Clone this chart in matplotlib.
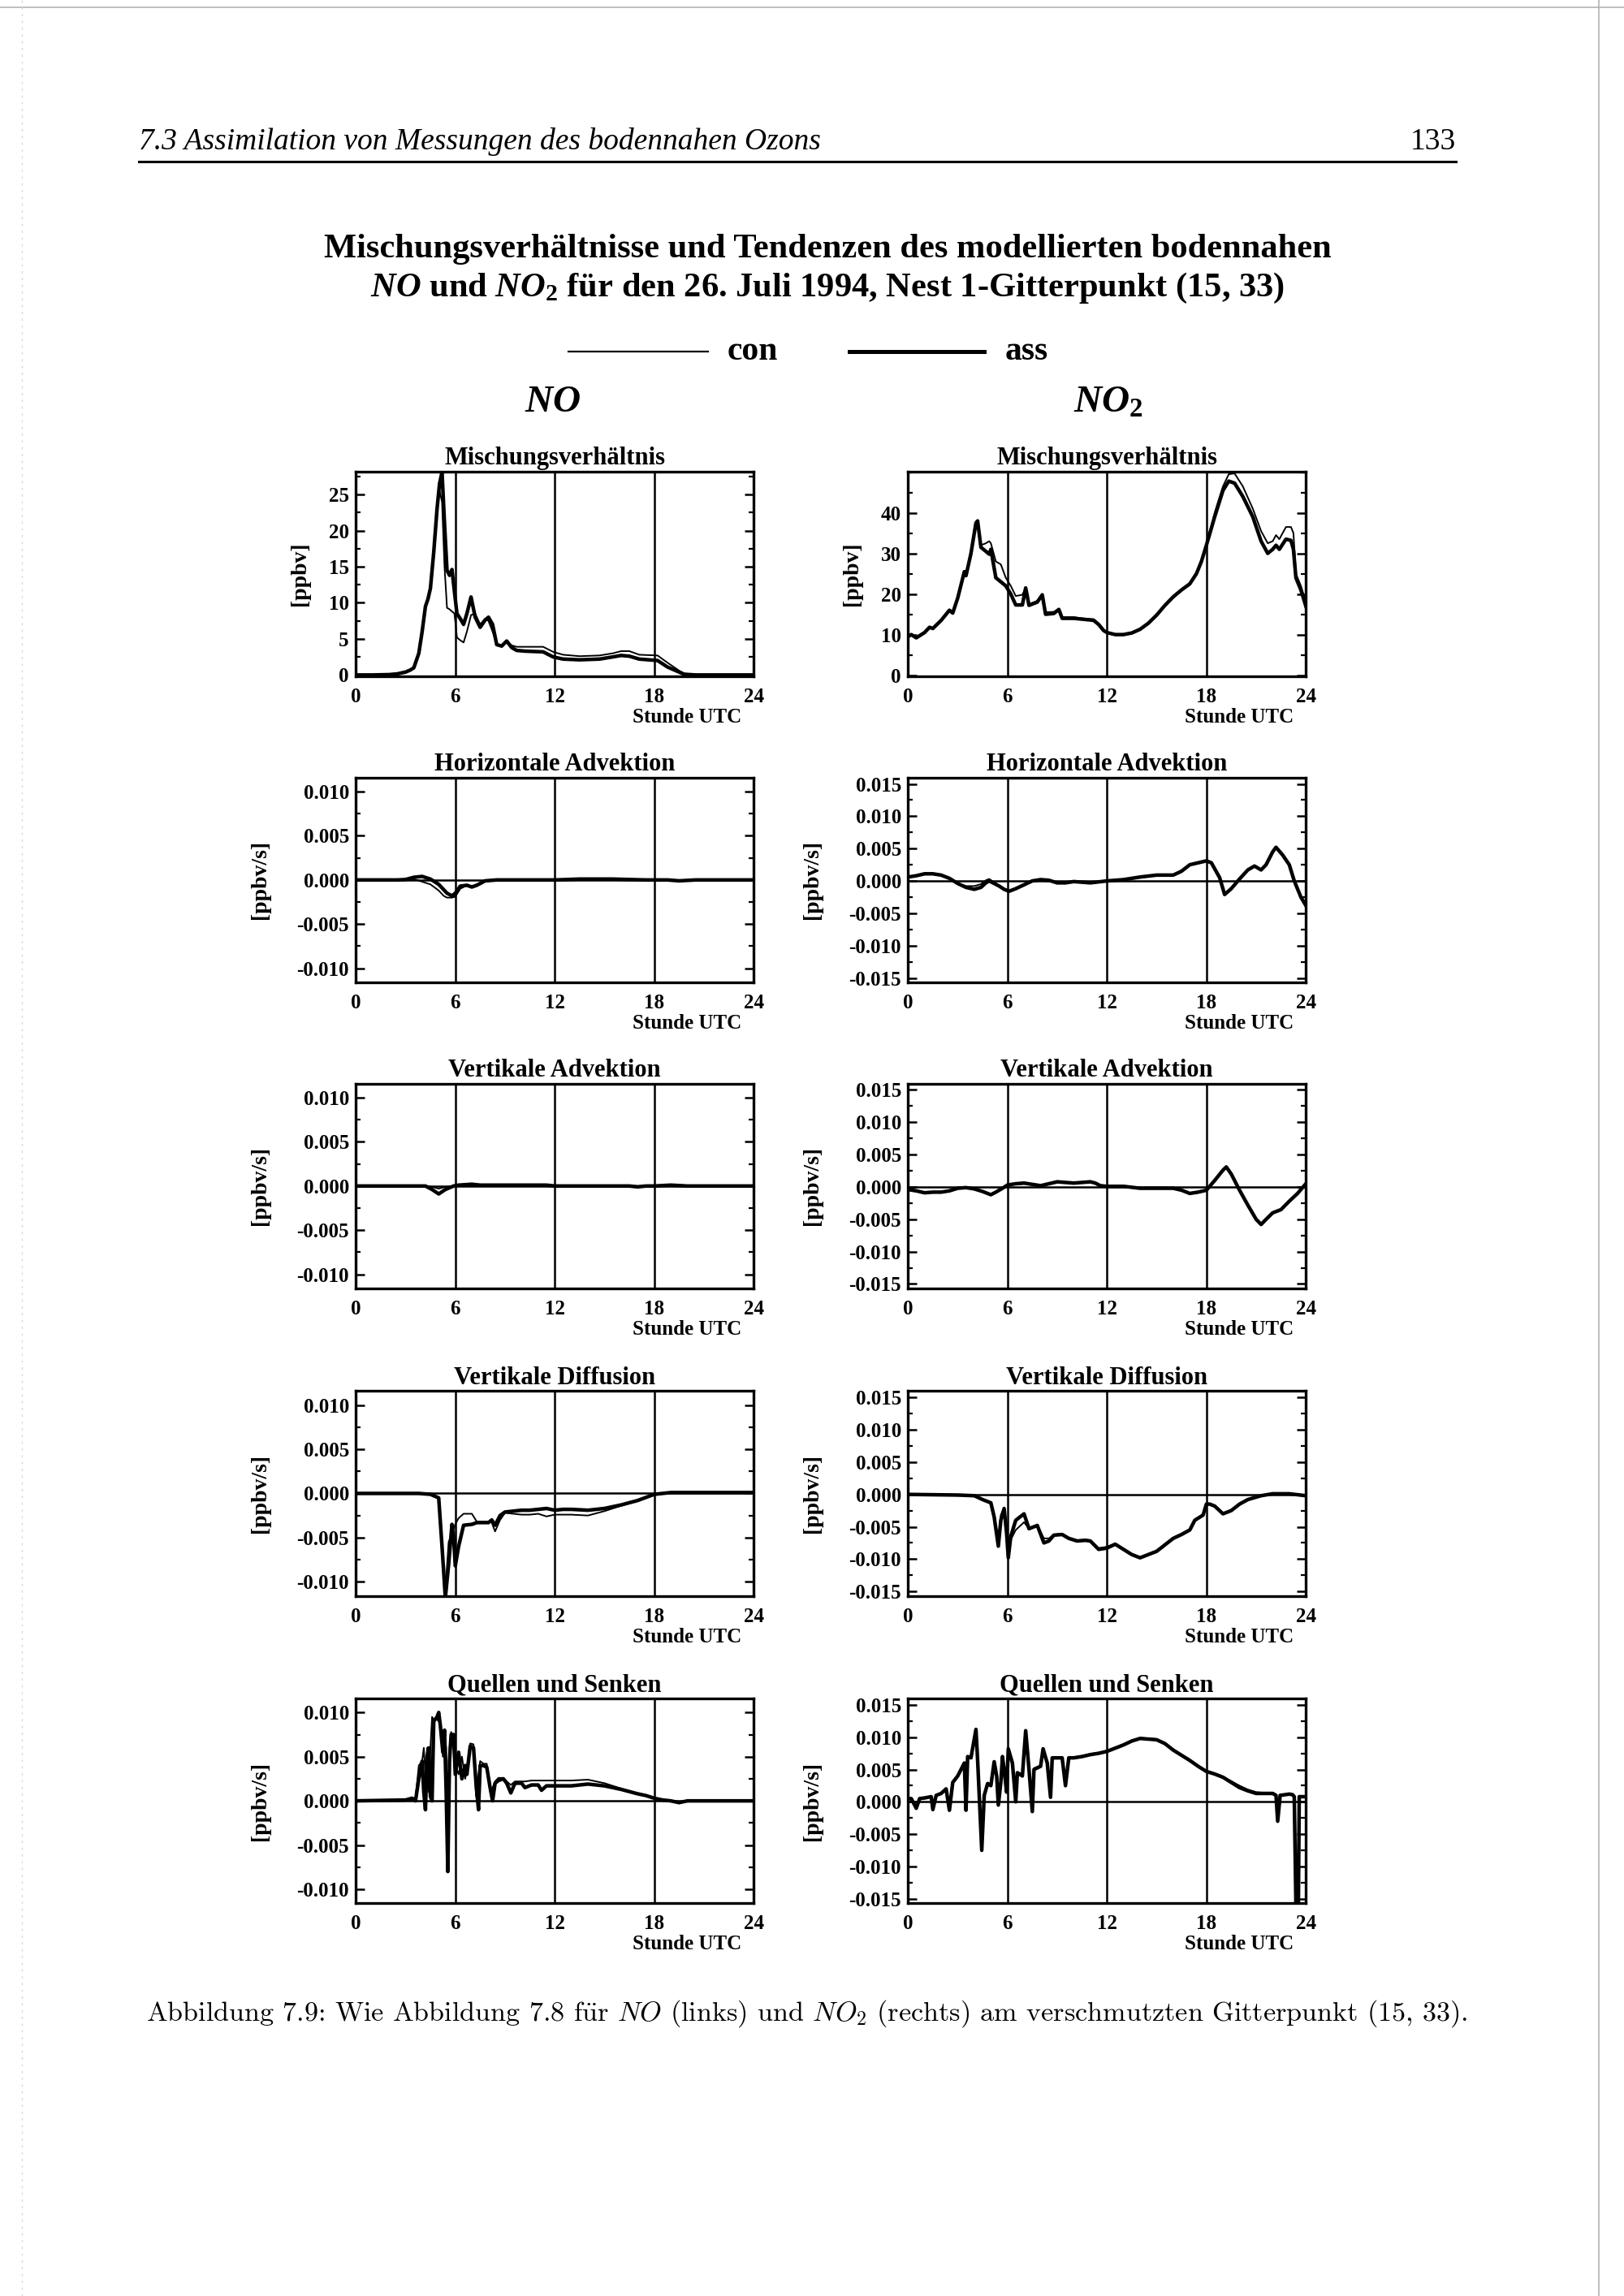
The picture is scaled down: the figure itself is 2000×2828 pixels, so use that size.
import numpy as np
import matplotlib
matplotlib.use("Agg")
import matplotlib.pyplot as plt
from matplotlib.ticker import MultipleLocator, FormatStrFormatter
from matplotlib.lines import Line2D

plt.rcParams['font.family'] = ['Liberation Serif', 'DejaVu Serif']
plt.rcParams['font.weight'] = 'bold'
plt.rcParams['mathtext.fontset'] = 'custom'
plt.rcParams['mathtext.it'] = 'Liberation Serif:italic:bold'
plt.rcParams['mathtext.rm'] = 'Liberation Serif:bold'
plt.rcParams['mathtext.bf'] = 'Liberation Serif:bold'

# ---- data: hours UTC, con (thin) and ass (thick) ----
# NO Mischungsverhaeltnis [ppbv]
no_mix_h = [0, 1, 2, 2.5, 3, 3.3, 3.5, 3.8, 4.0, 4.2, 4.35, 4.5, 4.7, 4.9, 5.05, 5.2, 5.35, 5.5,
            5.65, 5.8, 5.95, 6.1, 6.3, 6.5, 6.7, 6.95, 7.2, 7.5, 7.8, 8.0, 8.25, 8.5, 8.8, 9.1,
            9.4, 9.7, 10.2, 11.3, 11.9, 12.5, 13.5, 14.7, 15.5, 16.0, 16.5, 17.1, 18.2, 18.8,
            19.5, 19.8, 20.5, 21.5, 24]
no_mix_con = [0, 0, 0.05, 0.15, 0.4, 0.7, 1.0, 3.0, 6.0, 9.5, 10.5, 12.5, 17.5, 23.5, 25.5, 24.0,
              15.0, 9.3, 9.1, 8.8, 8.5, 5.2, 4.8, 4.5, 6.0, 8.3, 8.5, 7.0, 7.8, 7.5, 6.0, 4.3, 4.0,
              4.7, 4.1, 3.9, 3.9, 3.9, 3.2, 2.8, 2.6, 2.7, 3.0, 3.3, 3.3, 2.8, 2.7, 1.7, 0.6, 0.2,
              0.0, 0, 0]
no_mix_ass = [0, 0, 0.05, 0.15, 0.4, 0.7, 1.0, 3.0, 6.0, 9.5, 10.5, 12.0, 17.0, 23.0, 26.5, 28.1,
              21.0, 14.5, 13.8, 14.6, 11.5, 8.5, 7.8, 7.0, 8.5, 10.8, 8.0, 6.6, 7.6, 8.0, 7.0, 4.2,
              4.0, 4.7, 3.8, 3.4, 3.3, 3.2, 2.5, 2.2, 2.1, 2.2, 2.5, 2.7, 2.6, 2.2, 2.0, 1.1, 0.4,
              0.1, 0.0, 0, 0]

# NO2 Mischungsverhaeltnis [ppbv]
no2_mix_h = [0, 0.2, 0.5, 1.0, 1.3, 1.5, 2.0, 2.5, 2.7, 3.0, 3.4, 3.5, 3.8, 4.1, 4.2, 4.4, 4.7,
             4.9, 5.0, 5.3, 5.6, 5.9, 6.2, 6.5, 6.9, 7.1, 7.3, 7.8, 8.1, 8.3, 8.8, 9.1, 9.3, 10.0,
             10.5, 11.0, 11.2, 11.5, 11.8, 12.0, 12.5, 13.0, 13.5, 14.0, 14.5, 15.0, 15.5, 16.0,
             16.5, 17.0, 17.4, 17.7, 18.0, 18.5, 19.0, 19.35, 19.7, 20.2, 20.8, 21.3, 21.7, 22.0,
             22.2, 22.4, 22.8, 23.1, 23.25, 23.4, 23.7, 24.0]
no2_mix_con = [9.5, 10, 9.2, 10.5, 11.8, 11.5, 13.5, 16, 15.3, 19, 25.5, 24.5, 30, 37, 37.5, 32,
               32.5, 33, 32.5, 28, 27.3, 24, 22, 19.5, 19.8, 21.5, 17.5, 18.3, 19.8, 15.5, 15.6,
               16.3, 14.3, 14.3, 14, 13.8, 13.8, 12.7, 11.2, 10.6, 10, 10, 10.4, 11.3, 12.8, 14.8,
               17.2, 19.3, 21, 22.5, 25, 28, 32, 40, 46.5, 49.5, 49.7, 46.5, 41, 35.5, 32.5, 33,
               34.5, 33.5, 36.5, 36.5, 35, 25, 22, 18]
no2_mix_ass = [9.5, 10, 9.2, 10.5, 11.8, 11.5, 13.5, 16, 15.3, 19, 25.5, 24.5, 30, 37.5, 38, 31.5,
               30.5, 29.8, 31, 24, 23, 22, 20, 17.3, 17.3, 21.5, 17.2, 18, 19.8, 15, 15.2, 16.2,
               14, 14, 13.8, 13.6, 13.5, 12.5, 11, 10.5, 10, 10, 10.4, 11.3, 12.8, 14.8, 17.2,
               19.3, 21, 22.5, 25, 28, 32, 39, 45.5, 47.8, 47.3, 44, 39, 33, 30, 31, 32, 31, 33.5,
               33.2, 31, 24, 21, 17]

# NO horizontale Advektion [ppbv/s]
no_hadv_h = [0, 2.5, 3.0, 3.5, 4.0, 4.5, 5.0, 5.3, 5.5, 5.8, 6.0, 6.3, 6.7, 7.0, 7.3, 7.8, 8.5,
             12, 13.5, 15.5, 17.5, 18.8, 19.5, 20.5, 24]
no_hadv_con = [0, 0, 0.0001, 0.0001, -0.0002, -0.0005, -0.0012, -0.0018, -0.0020, -0.0020,
               -0.0019, -0.0010, -0.0006, -0.0007, -0.0005, -0.0002, 0, 0, 0.0001, 0.0001, 0, 0,
               -0.0001, 0, 0]
no_hadv_ass = [0, 0, 0.00005, 0.0003, 0.0004, 0.0001, -0.0005, -0.0011, -0.0015, -0.0018,
               -0.0015, -0.0007, -0.0006, -0.0008, -0.0006, -0.0001, 0, 0, 0.0001, 0.0001, 0, 0,
               -0.0001, 0, 0]

# NO2 horizontale Advektion [ppbv/s]
no2_hadv_h = [0, 0.5, 1.0, 1.5, 2.0, 2.5, 3.0, 3.5, 4.0, 4.4, 4.7, 4.9, 5.2, 5.5, 5.8, 6.1, 6.5,
              7.0, 7.5, 8.0, 8.5, 9.0, 9.5, 10.0, 11.0, 12.0, 13.0, 14.0, 15.0, 16.0, 16.5, 17.0,
              17.5, 18.0, 18.3, 18.8, 19.1, 19.5, 20.0, 20.5, 20.9, 21.3, 21.6, 22.0, 22.2, 22.6,
              23.0, 23.3, 23.7, 24.0]
no2_hadv_con = [0.0006, 0.0008, 0.0011, 0.0011, 0.0009, 0.0004, -0.0004, -0.0008, -0.0008,
                -0.0005, 0.0001, 0.0003, -0.0002, -0.0007, -0.0012, -0.0015, -0.0012, -0.0006,
                0.0000, 0.0002, 0.0001, -0.0003, -0.0003, -0.0001, -0.0003, 0.0000, 0.0002,
                0.0006, 0.0009, 0.0009, 0.0015, 0.0025, 0.0028, 0.0031, 0.0028, 0.0005, -0.0021,
                -0.0012, 0.0003, 0.0017, 0.0023, 0.0017, 0.0025, 0.0045, 0.0052, 0.0040, 0.0025,
                0.0000, -0.0025, -0.0038]
no2_hadv_ass = [0.0006, 0.0008, 0.0011, 0.0011, 0.0009, 0.0004, -0.0004, -0.0010, -0.0013,
                -0.0010, -0.0003, 0.0000, -0.0004, -0.0008, -0.0013, -0.0016, -0.0012, -0.0006,
                0.0000, 0.0002, 0.0001, -0.0003, -0.0003, -0.0001, -0.0003, 0.0000, 0.0002,
                0.0006, 0.0009, 0.0009, 0.0015, 0.0025, 0.0028, 0.0031, 0.0028, 0.0005, -0.0021,
                -0.0012, 0.0003, 0.0017, 0.0023, 0.0017, 0.0025, 0.0045, 0.0052, 0.0040, 0.0025,
                0.0000, -0.0025, -0.0038]

# NO vertikale Advektion [ppbv/s]
no_vadv_h = [0, 4.2, 4.6, 5.0, 5.4, 5.9, 6.2, 7.0, 7.5, 8.0, 11.5, 12.0, 16.5, 17.0, 17.5, 18.0,
             19.0, 20.0, 24]
no_vadv_con = [0, 0, -0.0001, -0.0003, -0.0001, 0, 0.0001, 0.0001, 0.0001, 0.00005, 0.00005, 0,
               0, 0, 0, 0, 0.00005, 0, 0]
no_vadv_ass = [0, 0, -0.0004, -0.0009, -0.0004, 0, 0.0001, 0.0002, 0.0001, 0.0001, 0.0001, 0,
               0, -0.0001, 0, 0, 0.0001, 0, 0]

# NO2 vertikale Advektion [ppbv/s]
no2_vadv_h = [0, 0.5, 1.0, 1.5, 2.0, 2.5, 3.0, 3.5, 4.0, 4.5, 5.0, 5.3, 5.7, 6.0, 6.5, 7.0, 7.5,
              8.0, 8.5, 9.0, 9.5, 10.0, 10.5, 11.0, 11.3, 11.6, 12.0, 13.0, 14.0, 15.0, 16.0,
              16.5, 17.0, 17.5, 18.0, 18.5, 19.0, 19.2, 19.5, 20.0, 20.5, 21.0, 21.3, 21.6, 22.0,
              22.5, 23.0, 23.5, 24.0]
no2_vadv_con = [-0.0004, -0.0006, -0.0008, -0.0008, -0.0008, -0.0006, -0.0002, -0.0001, -0.0003,
                -0.0006, -0.0011, -0.0008, -0.0002, 0.0003, 0.0004, 0.0005, 0.0004, 0.0002,
                0.0004, 0.0007, 0.0007, 0.0006, 0.0007, 0.0007, 0.0006, 0.0002, 0.0001, 0.0001,
                -0.0002, -0.0002, -0.0002, -0.0005, -0.0010, -0.0008, -0.0005, 0.0010, 0.0026,
                0.0030, 0.0020, -0.0005, -0.0027, -0.0049, -0.0056, -0.0050, -0.0040, -0.0034,
                -0.0022, -0.0010, 0.0005]
no2_vadv_ass = [-0.0004, -0.0006, -0.0009, -0.0008, -0.0008, -0.0006, -0.0002, -0.0001, -0.0003,
                -0.0007, -0.0012, -0.0008, -0.0002, 0.0003, 0.0005, 0.0006, 0.0004, 0.0002,
                0.0005, 0.0008, 0.0007, 0.0006, 0.0007, 0.0008, 0.0006, 0.0002, 0.0001, 0.0001,
                -0.0002, -0.0002, -0.0002, -0.0005, -0.0010, -0.0008, -0.0005, 0.0010, 0.0026,
                0.0031, 0.0020, -0.0005, -0.0028, -0.0050, -0.0058, -0.0050, -0.0040, -0.0035,
                -0.0022, -0.0010, 0.0005]

# NO vertikale Diffusion [ppbv/s]
no_vdif_h = [0, 3.8, 4.5, 5.0, 5.2, 5.4, 5.6, 5.8, 5.9, 6.0, 6.2, 6.5, 7.0, 7.3, 8.0, 8.2, 8.4,
             8.7, 9.0, 9.5, 10.0, 10.5, 11.0, 11.5, 12.0, 12.5, 13.0, 14.0, 15.0, 16.0, 17.0,
             18.0, 19.0, 24.0]
no_vdif_con = [0, 0, -0.0001, -0.0005, -0.0060, -0.0110, -0.0055, -0.0045, -0.0040, -0.0035,
               -0.0028, -0.0023, -0.0023, -0.0032, -0.0032, -0.0033, -0.0043, -0.0030, -0.0022,
               -0.0023, -0.0024, -0.0024, -0.0023, -0.0026, -0.0024, -0.0024, -0.0024, -0.0025,
               -0.0020, -0.0014, -0.0008, -0.0002, 0.0001, 0.0001]
no_vdif_ass = [0, 0, -0.0001, -0.0005, -0.0060, -0.0118, -0.0080, -0.0035, -0.0050, -0.0082,
               -0.0060, -0.0036, -0.0035, -0.0033, -0.0033, -0.0030, -0.0036, -0.0025, -0.0021,
               -0.0020, -0.0019, -0.0019, -0.0018, -0.0017, -0.0019, -0.0018, -0.0018, -0.0019,
               -0.0017, -0.0013, -0.0008, -0.0001, 0.0001, 0.0001]

# NO2 vertikale Diffusion [ppbv/s]
no2_vdif_h = [0, 3.0, 4.0, 4.5, 5.0, 5.2, 5.45, 5.6, 5.8, 5.95, 6.05, 6.2, 6.5, 7.0, 7.3, 7.8,
              8.2, 8.5, 8.8, 9.3, 9.7, 10.2, 10.7, 11.0, 11.5, 12.0, 12.5, 13.0, 13.5, 14.0, 14.5,
              15.0, 15.5, 16.0, 16.5, 17.0, 17.3, 17.8, 18.0, 18.2, 18.5, 19.0, 19.5, 20.0, 20.5,
              21.3, 22.0, 23.0, 24.0]
no2_vdif_con = [0, -0.0001, -0.0002, -0.0008, -0.0013, -0.0032, -0.0070, -0.0032, -0.0020,
                -0.0055, -0.0095, -0.0070, -0.0055, -0.0043, -0.0053, -0.0048, -0.0068, -0.0068,
                -0.0062, -0.0061, -0.0067, -0.0071, -0.0070, -0.0071, -0.0083, -0.0081, -0.0076,
                -0.0084, -0.0092, -0.0097, -0.0092, -0.0087, -0.0077, -0.0067, -0.0061, -0.0054,
                -0.0040, -0.0031, -0.0015, -0.0015, -0.0018, -0.0030, -0.0025, -0.0015, -0.0008,
                -0.0002, 0.0001, 0.0001, -0.0002]
no2_vdif_ass = [0, -0.0001, -0.0002, -0.0008, -0.0013, -0.0035, -0.0080, -0.0040, -0.0022,
                -0.0060, -0.0098, -0.0065, -0.0040, -0.0030, -0.0053, -0.0048, -0.0075, -0.0072,
                -0.0063, -0.0062, -0.0068, -0.0072, -0.0071, -0.0072, -0.0085, -0.0083, -0.0077,
                -0.0085, -0.0093, -0.0098, -0.0093, -0.0088, -0.0078, -0.0068, -0.0062, -0.0055,
                -0.0040, -0.0032, -0.0015, -0.0015, -0.0018, -0.0030, -0.0025, -0.0015, -0.0008,
                -0.0002, 0.0001, 0.0001, -0.0002]

# NO Quellen und Senken [ppbv/s]
no_qs_h = [0, 3.0, 3.4, 3.6, 3.8, 4.0, 4.1, 4.2, 4.3, 4.4, 4.5, 4.6, 4.7, 4.9, 5.0, 5.1, 5.25,
           5.35, 5.45, 5.55, 5.65, 5.75, 5.9, 6.0, 6.2, 6.4, 6.6, 6.7, 6.9, 7.1, 7.25, 7.4, 7.5,
           7.7, 7.9, 8.1, 8.25, 8.4, 8.6, 8.9, 9.1, 9.35, 9.6, 10.0, 10.2, 10.6, 11.0, 11.2,
           11.5, 12.0, 13.0, 14.0, 15.0, 16.0, 17.0, 17.5, 18.0, 18.5, 19.0, 19.5, 20.0, 24.0]
no_qs_con = [0, 0.0001, 0.0001, 0.0003, 0.0040, 0.0045, 0.0060, 0.0030, 0.0060, 0.0010, 0.0060,
             0.0095, 0.0092, 0.0092, 0.0090, 0.0088, 0.0050, 0.0075, 0.0060, -0.0060, 0.0060,
             0.0078, 0.0060, 0.0040, 0.0030, 0.0050, 0.0025, 0.0035, 0.0065, 0.0064, 0.0005,
             0.0030, 0.0045, 0.0042, 0.0042, 0.0010, 0.0015, 0.0022, 0.0026, 0.0026, 0.0022,
             0.0018, 0.0022, 0.0022, 0.0022, 0.0023, 0.0023, 0.0023, 0.0023, 0.0023, 0.0023,
             0.0024, 0.0020, 0.0014, 0.0008, 0.0006, 0.0003, 0.0001, 0.0000, -0.0001, 0.0000, 0.0000]
no_qs_ass = [0, 0.0001, 0.0003, 0.0000, 0.0025, 0.0045, 0.0010, -0.0010, 0.0050, 0.0060, 0.0005,
             0.0000, 0.0090, 0.0095, 0.0100, 0.0085, 0.0055, 0.0080, 0.0010, -0.0080, 0.0045,
             0.0075, 0.0075, 0.0030, 0.0055, 0.0025, 0.0040, 0.0030, 0.0062, 0.0060, 0.0020,
             -0.0010, 0.0040, 0.0040, 0.0038, 0.0015, 0.0000, 0.0020, 0.0023, 0.0025, 0.0020,
             0.0009, 0.0020, 0.0020, 0.0015, 0.0018, 0.0018, 0.0012, 0.0017, 0.0017, 0.0017,
             0.0019, 0.0017, 0.0013, 0.0008, 0.0006, 0.0003, 0.0001, 0.0000, -0.0002, 0.0000, 0.0000]

# NO2 Quellen und Senken [ppbv/s]
no2_qs_h = [0, 0.2, 0.5, 0.7, 1.0, 1.4, 1.5, 1.7, 2.0, 2.3, 2.5, 2.7, 3.0, 3.3, 3.4, 3.5, 3.6,
            3.8, 4.1, 4.2, 4.45, 4.6, 4.8, 5.0, 5.2, 5.35, 5.45, 5.6, 5.7, 5.8, 5.95, 6.05, 6.3,
            6.5, 6.6, 6.9, 7.1, 7.3, 7.5, 7.6, 8.0, 8.15, 8.4, 8.6, 8.7, 9.0, 9.3, 9.5, 9.7,
            10.0, 10.5, 11.0, 11.5, 12.0, 12.5, 13.0, 13.5, 14.0, 14.5, 15.0, 15.5, 16.0, 16.5,
            17.0, 17.5, 18.0, 18.5, 19.0, 19.5, 20.0, 20.5, 21.0, 21.5, 22.0, 22.2, 22.3, 22.45,
            23.0, 23.2, 23.3, 23.4, 23.55, 23.6, 24.0]
no2_qs_con = [0.0005, 0.0005, -0.0009, 0.0005, 0.0006, 0.0008, -0.0011, 0.0010, 0.0013, 0.0020,
              -0.0012, 0.0030, 0.0040, 0.0055, 0.0060, -0.0012, 0.0070, 0.0068, 0.0108, 0.0065,
              -0.0070, 0.0012, 0.0030, 0.0027, 0.0060, 0.0040, 0.0000, 0.0032, 0.0068, 0.0050,
              0.0018, 0.0080, 0.0060, 0.0002, 0.0046, 0.0042, 0.0105, 0.0050, -0.0012, 0.0052,
              0.0056, 0.0080, 0.0060, 0.0009, 0.0069, 0.0069, 0.0069, 0.0028, 0.0069, 0.0069,
              0.0071, 0.0074, 0.0076, 0.0079, 0.0084, 0.0089, 0.0095, 0.0099, 0.0098, 0.0097,
              0.0091, 0.0081, 0.0073, 0.0065, 0.0056, 0.0048, 0.0044, 0.0039, 0.0032, 0.0025,
              0.0019, 0.0015, 0.0014, 0.0014, 0.0011, -0.0028, 0.0011, 0.0012, 0.0011, 0.0008,
              -0.0158, -0.0158, 0.0008, 0.0008]
no2_qs_ass = [0.0005, 0.0005, -0.0010, 0.0005, 0.0006, 0.0008, -0.0012, 0.0010, 0.0013, 0.0020,
              -0.0013, 0.0030, 0.0040, 0.0055, 0.0060, -0.0013, 0.0070, 0.0068, 0.0112, 0.0065,
              -0.0075, 0.0010, 0.0028, 0.0025, 0.0062, 0.0040, -0.0005, 0.0030, 0.0070, 0.0050,
              0.0015, 0.0082, 0.0060, 0.0000, 0.0045, 0.0040, 0.0110, 0.0050, -0.0015, 0.0050,
              0.0055, 0.0082, 0.0060, 0.0007, 0.0068, 0.0068, 0.0068, 0.0025, 0.0068, 0.0068,
              0.0070, 0.0073, 0.0075, 0.0078, 0.0083, 0.0088, 0.0094, 0.0098, 0.0097, 0.0096,
              0.0090, 0.0080, 0.0072, 0.0064, 0.0055, 0.0047, 0.0043, 0.0038, 0.0030, 0.0022,
              0.0017, 0.0013, 0.0013, 0.0013, 0.0010, -0.0030, 0.0010, 0.0012, 0.0011, 0.0008,
              -0.0158, -0.0158, 0.0008, 0.0008]

hour_ticks = [0, 6, 12, 18, 24]
panel_titles = ["Mischungsverhältnis", "Horizontale Advektion", "Vertikale Advektion",
                "Vertikale Diffusion", "Quellen und Senken"]

no_panels = [(no_mix_h, no_mix_con, no_mix_ass), (no_hadv_h, no_hadv_con, no_hadv_ass),
             (no_vadv_h, no_vadv_con, no_vadv_ass), (no_vdif_h, no_vdif_con, no_vdif_ass),
             (no_qs_h, no_qs_con, no_qs_ass)]
no2_panels = [(no2_mix_h, no2_mix_con, no2_mix_ass), (no2_hadv_h, no2_hadv_con, no2_hadv_ass),
              (no2_vadv_h, no2_vadv_con, no2_vadv_ass), (no2_vdif_h, no2_vdif_con, no2_vdif_ass),
              (no2_qs_h, no2_qs_con, no2_qs_ass)]

fig = plt.figure(figsize=(10, 14.14), dpi=200)

# page header
fig.text(0.0857, 0.935, "7.3 Assimilation von Messungen des bodennahen Ozons",
         fontstyle='italic', fontweight='normal', fontsize=13.5, ha='left', va='baseline')
fig.text(0.8965, 0.935, "133", fontweight='normal', fontsize=13.5, ha='right', va='baseline')
fig.add_artist(Line2D([0.0857, 0.8965], [0.9295, 0.9295], color='k', lw=1.1))

# faint scan edges
fig.add_artist(Line2D([0.0, 1.0], [0.9968, 0.9968], color='0.7', lw=0.6))
fig.add_artist(Line2D([0.9845, 0.9845], [0.0, 1.0], color='0.7', lw=0.6))
fig.add_artist(Line2D([0.0135, 0.0135], [0.0, 1.0], color='0.85', lw=0.5, ls=(0, (2, 4))))

# title
fig.text(0.5095, 0.8915, "Mischungsverhältnisse und Tendenzen des modellierten bodennahen",
         fontsize=15.3, ha='center', va='center')
fig.text(0.5095, 0.8745, r"$NO$ und $NO_2$ für den 26. Juli 1994, Nest 1-Gitterpunkt (15, 33)",
         fontsize=15.3, ha='center', va='center')

# legend
fig.add_artist(Line2D([0.350, 0.436], [0.8469, 0.8469], color='k', lw=0.8))
fig.text(0.448, 0.8469, "con", fontsize=15, ha='left', va='center')
fig.add_artist(Line2D([0.523, 0.606], [0.8469, 0.8469], color='k', lw=1.8))
fig.text(0.619, 0.8469, "ass", fontsize=15, ha='left', va='center')

# species headings
fig.text(0.3405, 0.8245, r"$NO$", fontsize=17, ha='center', va='center')
fig.text(0.6826, 0.8245, r"$NO_2$", fontsize=17, ha='center', va='center')

col_left = [0.2191, 0.5591]
ax_w = 0.2450
row_bottom = [0.7054, 0.5721, 0.4388, 0.3049, 0.1710]
ax_h = 0.0893

for col, panels in enumerate([no_panels, no2_panels]):
    for row, (h, con, ass) in enumerate(panels):
        ax = fig.add_axes([col_left[col], row_bottom[row], ax_w, ax_h])
        ax.plot(h, con, color='k', lw=0.7)
        ax.plot(h, ass, color='k', lw=1.6)
        for xv in [6, 12, 18]:
            ax.axvline(xv, color='k', lw=0.9)
        ax.set_xlim(0, 24)
        ax.set_xticks(hour_ticks)
        ax.set_xticklabels([str(t) for t in hour_ticks])
        if row == 0:
            if col == 0:
                ax.set_ylim(-0.2, 28.2)
                ax.set_yticks([0, 5, 10, 15, 20, 25])
                ax.yaxis.set_minor_locator(MultipleLocator(2.5))
            else:
                ax.set_ylim(-0.3, 50.2)
                ax.set_yticks([0, 10, 20, 30, 40])
                ax.yaxis.set_minor_locator(MultipleLocator(5))
            ax.yaxis.set_major_formatter(FormatStrFormatter('%d'))
            ax.set_ylabel("[ppbv]", fontsize=10, fontweight='bold')
            ax.yaxis.set_label_coords(-0.115, 0.5)
        else:
            ax.axhline(0, color='k', lw=0.9)
            if col == 0:
                ax.set_ylim(-0.0116, 0.0116)
                ax.set_yticks([-0.01, -0.005, 0, 0.005, 0.01])
            else:
                ax.set_ylim(-0.0157, 0.0160)
                ax.set_yticks([-0.015, -0.01, -0.005, 0, 0.005, 0.01, 0.015])
            ax.yaxis.set_minor_locator(MultipleLocator(0.0025))
            ax.yaxis.set_major_formatter(FormatStrFormatter('%.3f'))
            ax.set_ylabel("[ppbv/s]", fontsize=10, fontweight='bold')
            ax.yaxis.set_label_coords(-0.215, 0.5)
        ax.tick_params(axis='y', which='both', direction='in', left=True, right=True,
                       labelsize=9, pad=3)
        ax.tick_params(axis='y', which='major', length=4, width=0.9)
        ax.tick_params(axis='y', which='minor', length=2, width=0.8)
        ax.tick_params(axis='x', length=0, labelsize=9, pad=5)
        for sp in ax.spines.values():
            sp.set_linewidth(1.2)
        ax.set_title(panel_titles[row], fontsize=11, fontweight='bold', pad=3)
        ax.text(0.97, -0.2, "Stunde UTC", transform=ax.transAxes, ha='right', va='center',
                fontsize=9)

# caption
fig.text(0.090, 0.1231,
         r"Abbildung 7.9: Wie Abbildung 7.8 f$\ddot{\mathrm{u}}$r $NO$ (links) und $NO_2$ (rechts) am verschmutzten Gitterpunkt (15, 33).",
         fontsize=12.3, fontweight='normal', ha='left', va='center', math_fontfamily='cm',
         family=['cmr10', 'Liberation Serif'])

fig.savefig("out.png", dpi=200)
